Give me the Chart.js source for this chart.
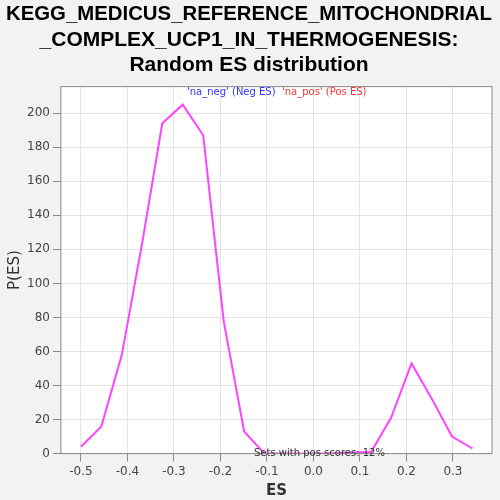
<!DOCTYPE html>
<html><head><script src="https://cdn.jsdelivr.net/npm/chart.js@4"></script>
<style>body{margin:0;background:#f2f2f2}#wrap{width:500px;height:500px;position:relative}</style>
</head><body><div id="wrap"><canvas id="c" width="500" height="500"></canvas></div>
<script>
const esValues = [-0.5, -0.456, -0.412, -0.368, -0.325, -0.281, -0.237, -0.193, -0.149, -0.105, -0.061, -0.017, 0.027, 0.071, 0.124, 0.167, 0.211, 0.255, 0.298, 0.342];
const density = [4, 16, 58, 124, 194, 205, 187, 78, 13, 0, 0, 0, 0, 0.5, 1, 21, 53, 32, 10, 3];
const xTicks = [-0.5, -0.4, -0.3, -0.2, -0.1, 0.0, 0.1, 0.2, 0.3];

const bgPlugin = {
  id: 'bg',
  beforeDraw(chart) {
    const {ctx, chartArea: a} = chart;
    ctx.save();
    ctx.fillStyle = '#fff';
    ctx.fillRect(a.left, a.top, a.right - a.left, a.bottom - a.top);
    ctx.restore();
  },
  afterDraw(chart) {
    const {ctx, chartArea: a} = chart;
    ctx.save();
    ctx.strokeStyle = '#888';
    ctx.lineWidth = 1;
    ctx.strokeRect(a.left, a.top, a.right - a.left, a.bottom - a.top);
    ctx.font = '10px DejaVu Sans';
    ctx.textAlign = 'left';
    ctx.fillStyle = '#3333ff';
    ctx.fillText("'na_neg' (Neg ES)", 187, 95);
    ctx.fillStyle = '#ff3333';
    ctx.fillText("'na_pos' (Pos ES)", 282, 95);
    ctx.fillStyle = '#333';
    ctx.fillText('Sets with pos scores: 12%', 254, 456);
    ctx.restore();
  }
};

new Chart(document.getElementById('c'), {
  type: 'line',
  data: {
    datasets: [{
      data: esValues.map((x, i) => ({x: x, y: density[i]})),
      borderColor: '#ff44ff',
      borderWidth: 2,
      pointRadius: 0,
      tension: 0,
      fill: false
    }]
  },
  options: {
    responsive: false,
    animation: false,
    layout: {padding: {left: 6, right: 8, bottom: 0}},
    plugins: {
      legend: {display: false},
      tooltip: {enabled: false},
      title: {
        display: true,
        text: ['KEGG_MEDICUS_REFERENCE_MITOCHONDRIAL', '_COMPLEX_UCP1_IN_THERMOGENESIS:', 'Random ES distribution'],
        font: {family: 'Liberation Sans', size: 21, weight: 'bold'},
        color: '#000',
        padding: {top: 2, bottom: 9},
        lineHeight: 1.2
      }
    },
    scales: {
      x: {
        type: 'linear', min: -0.543, max: 0.384,
        afterBuildTicks: s => { s.ticks = xTicks.map(v => ({value: v})); },
        ticks: {font: {family: 'DejaVu Sans', size: 12}, color: '#444', callback: v => v.toFixed(1)},
        grid: {color: '#e4e4e4', tickColor: '#888'},
        border: {display: false},
        title: {display: true, text: 'ES', font: {family: 'DejaVu Sans', size: 15, weight: 'bold'}, color: '#333', padding: 0}
      },
      y: {
        min: 0, max: 215.6,
        afterBuildTicks: s => { s.ticks = [0,20,40,60,80,100,120,140,160,180,200].map(v => ({value: v})); },
        ticks: {font: {family: 'DejaVu Sans', size: 12}, color: '#444'},
        grid: {color: '#e4e4e4', tickColor: '#888'},
        border: {display: false},
        title: {display: true, text: 'P(ES)', font: {family: 'DejaVu Sans', size: 15}, color: '#333', padding: 0}
      }
    }
  },
  plugins: [bgPlugin]
});
</script></body></html>
